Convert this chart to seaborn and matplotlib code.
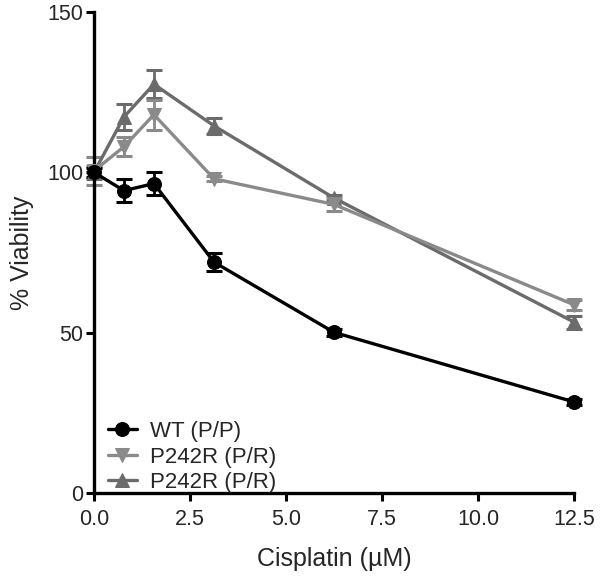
import matplotlib
matplotlib.use("Agg")
import matplotlib.pyplot as plt
import seaborn as sns
import pandas as pd
import numpy as np

dose = [0.0, 0.78, 1.56, 3.125, 6.25, 12.5]

wt_mean = [100.0, 94.3, 96.5, 72.0, 50.1, 28.4]
wt_err = [1.5, 3.5, 3.7, 2.7, 1.0, 1.0]

pr1_mean = [100.5, 108.0, 118.0, 98.0, 90.0, 58.7]
pr1_err = [4.3, 3.0, 4.7, 0.8, 2.0, 1.5]

pr2_mean = [100.0, 117.3, 127.5, 114.5, 92.0, 53.3]
pr2_err = [2.0, 4.0, 4.3, 2.5, 1.0, 2.0]

labels = ["WT (P/P)", "P242R (P/R)", "P242R (P/R)"]
colors = ["#000000", "#8a8a8a", "#6b6b6b"]
markers = ["o", "v", "^"]

sns.set_style("ticks")
plt.rcParams["font.family"] = ["Liberation Sans", "DejaVu Sans"]

fig = plt.figure(figsize = (6, 5.76), dpi = 100)
ax = fig.add_axes([0.1567, 0.1441, 0.8, 0.835])

series = [(wt_mean, wt_err), (pr1_mean, pr1_err), (pr2_mean, pr2_err)]
# grey series first so WT sits on top, like the original
for i in [2, 1, 0]:
    mean, err = series[i]
    df = pd.DataFrame({"dose": dose, "viability": mean})
    ax.errorbar(dose, mean, yerr = err, fmt = "none", ecolor = colors[i],
                elinewidth = 2, capsize = 6, capthick = 2.2, clip_on = False, zorder = 2)
    sns.lineplot(data = df, x = "dose", y = "viability", ax = ax, color = colors[i],
                 marker = markers[i], markersize = 10, markeredgecolor = colors[i],
                 linewidth = 2.4, label = labels[i], clip_on = False, zorder = 3)

ax.set_xlim(0, 12.5)
ax.set_ylim(0, 150)
ax.set_xticks([0, 2.5, 5, 7.5, 10, 12.5])
ax.set_xticklabels(["0.0", "2.5", "5.0", "7.5", "10.0", "12.5"])
ax.set_yticks([0, 50, 100, 150])
ax.tick_params(labelsize = 15.5, width = 2.2, length = 6, color = "black")
ax.tick_params(axis = "x", pad = 5.5)
ax.tick_params(axis = "y", pad = 1.5)
for s in ["left", "bottom"]:
    ax.spines[s].set_linewidth(2.4)
    ax.spines[s].set_color("black")
sns.despine(ax = ax)

ax.set_xlabel("Cisplatin (\u00b5M)", fontsize = 18, labelpad = 12)
ax.set_ylabel("% Viability", fontsize = 18, labelpad = 10)

handles, labs = ax.get_legend_handles_labels()
order = [2, 1, 0]
ax.legend([handles[j] for j in order], [labs[j] for j in order], loc = "lower left",
          bbox_to_anchor = (0.029, 0.0), borderaxespad = 0, borderpad = 0,
          frameon = False, fontsize = 16, handlelength = 1.3,
          handletextpad = 0.6, labelspacing = 0.2)

fig.savefig("out.png", dpi = 100)
